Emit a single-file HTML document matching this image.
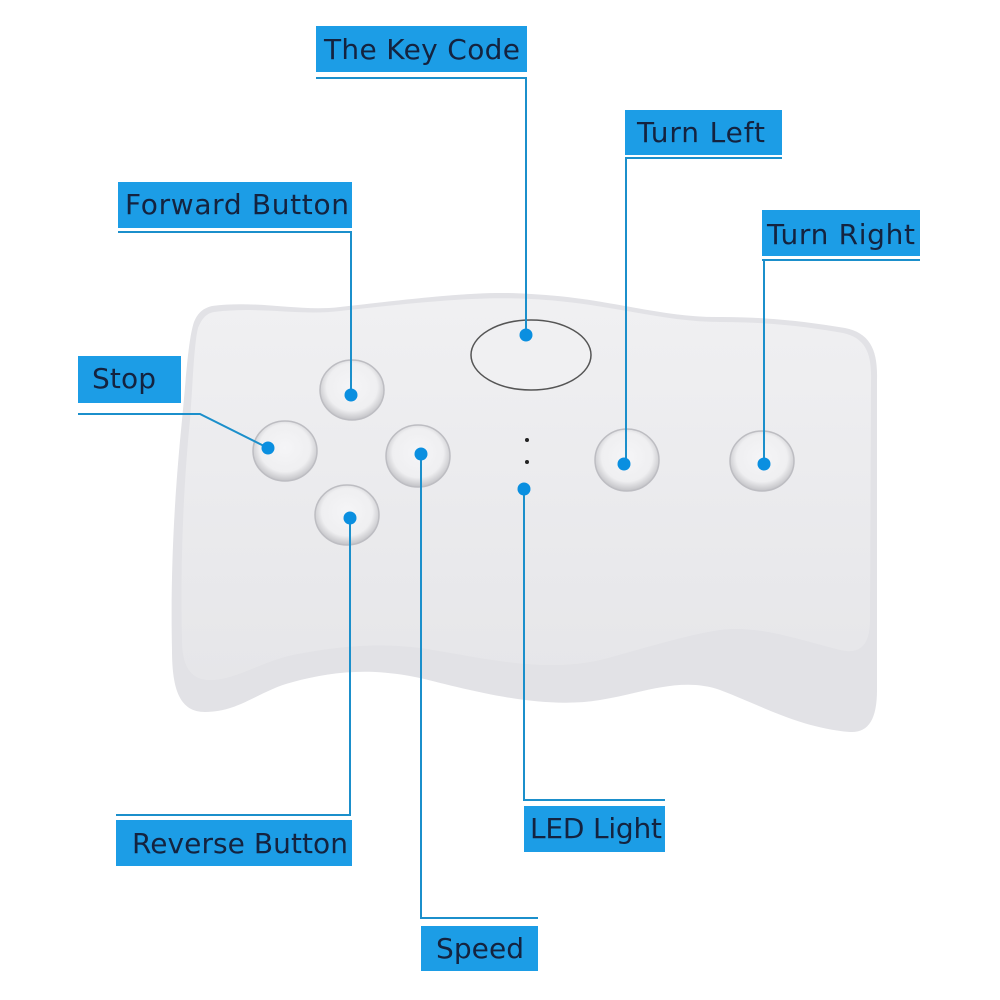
<!DOCTYPE html>
<html><head><meta charset="utf-8"><style>
html,body{margin:0;padding:0;background:#fff}
svg{display:block}
text{font-family:"DejaVu Sans","Liberation Sans",sans-serif;font-size:28px;fill:#14233f}
</style></head><body>
<svg width="1000" height="1000" viewBox="0 0 1000 1000" xmlns="http://www.w3.org/2000/svg">
<defs>
<radialGradient id="btn" cx="50%" cy="45%" r="55%">
<stop offset="0%" stop-color="#f5f5f7"/><stop offset="72%" stop-color="#efeff1"/><stop offset="100%" stop-color="#c2c2c6"/>
</radialGradient>
<linearGradient id="body" x1="0" y1="0" x2="0" y2="1">
<stop offset="0%" stop-color="#f0f0f2"/><stop offset="100%" stop-color="#e6e6e9"/>
</linearGradient>
</defs>
<path d="M212,306 C260,300 300,312 340,307 C420,298 480,290 531,294 C610,298 660,318 721,317 C770,317 810,322 845,328 C870,333 878,350 877,380 L877,690 C877,720 868,733 850,732 C800,728 760,705 720,690 C680,676 640,694 600,700 C540,710 470,690 420,678 C370,667 330,672 293,682 C260,690 240,712 205,712 C180,712 172,690 172,650 C170,560 176,480 182,420 C186,380 188,340 194,322 C198,312 204,308 212,306 Z" fill="#e2e2e6"/>
<path d="M214,312 C260,306 300,316 340,311 C420,302 480,296 531,299 C610,303 660,322 721,322 C770,322 810,327 843,333 C866,338 872,354 871,382 L870,620 C870,645 860,655 840,650 C800,640 760,625 720,630 C680,636 640,650 600,660 C540,674 470,655 420,648 C370,642 330,648 293,655 C260,662 236,680 210,680 C190,680 182,665 182,640 C180,560 184,480 190,420 C193,380 194,345 198,328 C202,318 207,313 214,312 Z" fill="url(#body)"/>
<g stroke="#bdbdc2" stroke-width="1.5">
<ellipse cx="352" cy="390" rx="32" ry="30" fill="url(#btn)"/>
<ellipse cx="285" cy="451" rx="32" ry="30" fill="url(#btn)"/>
<ellipse cx="418" cy="456" rx="32" ry="31" fill="url(#btn)"/>
<ellipse cx="347" cy="515" rx="32" ry="30" fill="url(#btn)"/>
<ellipse cx="627" cy="460" rx="32" ry="31" fill="url(#btn)"/>
<ellipse cx="762" cy="461" rx="32" ry="30" fill="url(#btn)"/>
</g>
<ellipse cx="531" cy="355" rx="60" ry="35" fill="#f0f0f2" stroke="#555" stroke-width="1.5"/>
<circle cx="527" cy="440" r="2" fill="#222"/>
<circle cx="527" cy="462" r="2" fill="#222"/>
<g stroke="#1b8fcb" stroke-width="2" fill="none">
<polyline points="316,78 526,78 526,333"/>
<polyline points="626,158 626,464"/>
<line x1="625" y1="158" x2="782" y2="158"/>
<polyline points="118,232 351,232 351,393"/>
<polyline points="764,260 764,464"/>
<line x1="762" y1="260" x2="920" y2="260"/>
<polyline points="78,414 200,414 268,448"/>
<polyline points="421,454 421,918 538,918"/>
<polyline points="350,518 350,815 116,815"/>
<polyline points="524,488 524,800 665,800"/>
</g>
<g fill="#0a8fe0">
<circle cx="526" cy="335" r="6.5"/><circle cx="624" cy="464" r="6.5"/>
<circle cx="351" cy="395" r="6.5"/><circle cx="764" cy="464" r="6.5"/>
<circle cx="268" cy="448" r="6.5"/><circle cx="421" cy="454" r="6.5"/>
<circle cx="350" cy="518" r="6.5"/><circle cx="524" cy="489" r="6.5"/>
</g>
<g fill="#1c9de6">
<rect x="316" y="26" width="211" height="46"/>
<rect x="625" y="110" width="157" height="45"/>
<rect x="118" y="182" width="234" height="46"/>
<rect x="762" y="210" width="158" height="46"/>
<rect x="78" y="356" width="103" height="47"/>
<rect x="116" y="820" width="236" height="46"/>
<rect x="524" y="806" width="141" height="46"/>
<rect x="421" y="926" width="117" height="45"/>
</g>
<text x="324" y="59" textLength="196">The Key Code</text>
<text x="637" y="142" textLength="128">Turn Left</text>
<text x="125" y="214" textLength="224">Forward Button</text>
<text x="767" y="244" textLength="148">Turn Right</text>
<text x="92" y="388" textLength="64">Stop</text>
<text x="132" y="853" textLength="216">Reverse Button</text>
<text x="530" y="838" textLength="132">LED Light</text>
<text x="436" y="958" textLength="88">Speed</text>
</svg>
</body></html>
